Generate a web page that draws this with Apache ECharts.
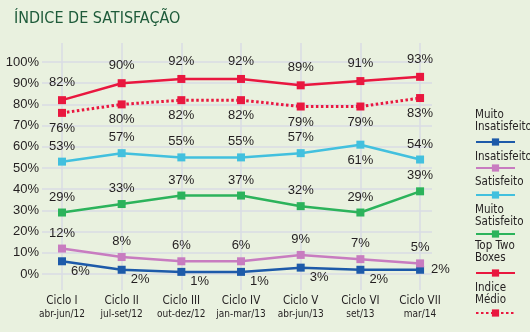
<!DOCTYPE html>
<html><head><meta charset="utf-8">
<script src="https://cdn.jsdelivr.net/npm/echarts@6/dist/echarts.min.js"></script>
<style>html,body{margin:0;padding:0;background:#e9f1df;}#c{width:530px;height:332px;}</style>
</head><body><div id="c"></div>
<script>
var title = 'ÍNDICE DE SATISFAÇÃO';
var cycles = ['Ciclo I','Ciclo II','Ciclo III','Ciclo IV','Ciclo V','Ciclo VI','Ciclo VII'];
var periods = ['abr-jun/12','jul-set/12','out-dez/12','jan-mar/13','abr-jun/13','set/13','mar/14'];
var muitoInsatisfeito = [6,2,1,1,3,2,2];
var insatisfeito = [12,8,6,6,9,7,5];
var satisfeito = [53,57,55,55,57,61,54];
var muitoSatisfeito = [29,33,37,37,32,29,39];
var topTwoBoxes = [82,90,92,92,89,91,93];
var indiceMedio = [76,80,82,82,79,79,83];
var yTicks = [0,10,20,30,40,50,60,70,80,90,100];

var NARROW = '"Liberation Sans Narrow","DejaVu Sans Condensed","Liberation Sans",sans-serif';
var SANS = '"Liberation Sans",Arial,sans-serif';
var TXT = '#231f20';

var seriesDefs = [
  {name:'Muito Insatisfeito', legendText:'Muito\nInsatisfeito', data:muitoInsatisfeito, color:'#1d5aa9', pos:'right', offset:[0,10], special:{6:{offset:[2,0]}}},
  {name:'Insatisfeito', legendText:'Insatisfeito', data:insatisfeito, color:'#c87cc0', pos:'top'},
  {name:'Satisfeito', legendText:'Satisfeito', data:satisfeito, color:'#42c0de', pos:'top', special:{5:{position:'bottom'}}},
  {name:'Muito Satisfeito', legendText:'Muito\nSatisfeito', data:muitoSatisfeito, color:'#2cb35b', pos:'top'},
  {name:'Top Two Boxes', legendText:'Top Two\nBoxes', data:topTwoBoxes, color:'#e9173f', pos:'top', dist:7},
  {name:'Indice Médio', legendText:'Indice\nMédio', data:indiceMedio, color:'#e9173f', pos:'bottom', dotted:true}
];
var legendIconY = [142,168,195,234,273,313];
var legendTextY = [115,157,182,210,246,288];

var series = seriesDefs.map(function(d){
  return {
    name:d.name, type:'line', xAxisIndex:0, yAxisIndex:0,
    symbol:'rect', symbolSize:8, z: d.dotted ? 3 : 4,
    lineStyle:{color:d.color, width: d.dotted ? 3 : 2.5, type: d.dotted ? [2.5,2.5] : 'solid'},
    itemStyle:{color:d.color},
    label:{show:true, position:d.pos, distance:d.dist||5, offset:d.offset||[0,0], color:TXT, fontFamily:SANS, fontSize:13,
      formatter:function(p){return p.value[1]+'%';}},
    emphasis:{disabled:true},
    data:d.data.map(function(v,i){
      var item = {value:[i,v]};
      if(d.special && d.special[i]) item.label = d.special[i];
      return item;
    })
  };
});

var legends = seriesDefs.map(function(d,i){
  return {data:[d.name], left:475, top:legendIconY[i]-4.5, itemWidth:39, itemHeight:9, formatter:function(){return '';}, selectedMode:false, padding:0, itemGap:0, textStyle:{fontSize:1}};
});

var graphics = [{type:'text', left:14, top:11, style:{text:title, fill:'#1e5b3a', font:'16px '+NARROW}}];
seriesDefs.forEach(function(d,i){
  graphics.push({type:'text', left:475, top:legendTextY[i]-6.25, style:{text:d.legendText, fill:TXT, font:'11.5px '+NARROW, lineHeight:12.5}});
});

var chart = echarts.init(document.getElementById('c'), null, {renderer:'canvas'});
chart.setOption({
  backgroundColor:'#e9f1df',
  animation:false,
  graphic:graphics,
  legend:legends,
  grid:[
    {left:42, right:98, top:62, bottom:58},
    {left:62, right:110, top:43, bottom:42}
  ],
  xAxis:[
    {gridIndex:0, type:'value', min:-0.335, max:6.2, show:false, splitLine:{show:false}},
    {gridIndex:1, type:'category', boundaryGap:false, data:cycles.map(function(c,i){return c+'\n'+periods[i];}),
      axisLine:{show:false}, axisTick:{show:false},
      splitLine:{show:true, lineStyle:{color:'#d9dbe4', width:1.5}},
      axisLabel:{interval:0, margin:5, formatter:function(v){var p=v.split('\n');return '{a|'+p[0]+'}\n{b|'+p[1]+'}';},
        rich:{a:{fontFamily:NARROW, fontSize:11.5, color:TXT, lineHeight:13}, b:{fontFamily:NARROW, fontSize:10, color:TXT, lineHeight:12}}}}
  ],
  yAxis:[
    {gridIndex:0, type:'value', min:yTicks[0], max:yTicks[yTicks.length-1], interval:10,
      axisLine:{show:false}, axisTick:{show:false},
      splitLine:{lineStyle:{color:'#d9dbe4', width:1.5}},
      axisLabel:{margin:3, color:TXT, fontFamily:SANS, fontSize:13, formatter:'{value}%'}},
    {gridIndex:1, type:'value', show:false, splitLine:{show:false}}
  ],
  series:series
});
</script></body></html>
